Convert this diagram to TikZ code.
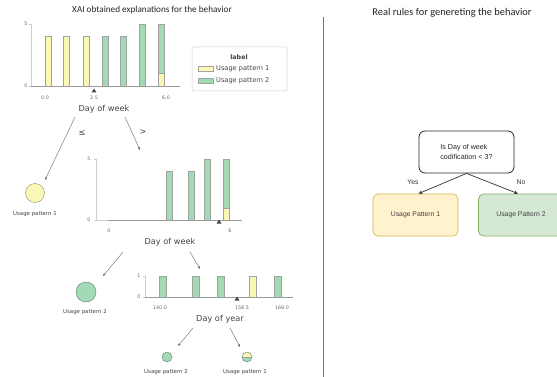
\documentclass[tikz,border=0pt]{standalone}
\usepackage{fontspec}
\setmainfont{DejaVu Sans}
\newfontfamily\calib{Carlito}
\newfontfamily\arialf{Liberation Sans}
\usetikzlibrary{arrows.meta}
\definecolor{pyel}{HTML}{FBF7B4}
\definecolor{pgrn}{HTML}{A1DAB4}
\definecolor{ink}{HTML}{444443}
\definecolor{axisc}{HTML}{CFCFCF}
\definecolor{xaxc}{HTML}{9A9A9A}
\definecolor{yesfill}{HTML}{FFF2CC}
\definecolor{yesdraw}{HTML}{D6B656}
\definecolor{nofill}{HTML}{D5E8D4}
\definecolor{nodraw}{HTML}{82B366}
\tikzset{
  ybar/.style={fill=pyel, draw=ink!50, line width=0.4pt},
  gbar/.style={fill=pgrn, draw=ink!50, line width=0.4pt},
  yaxis/.style={draw=axisc, line width=0.5pt},
  xaxis/.style={draw=xaxc, line width=0.7pt},
  ticklbl/.style={font=\fontsize{4.8}{5}\selectfont, text=ink!80, inner sep=0pt},
  axlbl/.style={font=\fontsize{8.2}{9}\selectfont, text=ink, inner sep=0pt},
  leaflbl/.style={font=\fontsize{5.4}{6}\selectfont, text=ink, inner sep=0pt},
  splitmark/.style={fill=ink, draw=none},
  treearr/.style={draw=ink!75, line width=0.45pt, -{Stealth[length=3.2pt,width=2.6pt]}},
  edgelbl/.style={font=\fontsize{8.2}{9}\selectfont, text=ink, inner sep=0pt},
  leafy/.style={circle, fill=pyel, draw=ink!40!pyel!80!black, line width=0.4pt, inner sep=0pt},
  leafg/.style={circle, fill=pgrn, draw=ink!40!pgrn!80!black, line width=0.4pt, inner sep=0pt},
  ruleq/.style={draw=black!85, line width=0.8pt, rounded corners=6pt, fill=white},
  ruleleaf/.style={line width=0.7pt, rounded corners=5pt, minimum width=85pt, minimum height=42pt,
    font=\arialf\fontsize{6.8}{8}\selectfont, text=black!75},
  rulearr/.style={draw=black!80, line width=0.7pt, -{Stealth[length=4pt,width=3.6pt]}},
  rulelbl/.style={font=\arialf\fontsize{6.8}{8}\selectfont, text=black!80, inner sep=0pt},
  ttl/.style={font=\calib\fontsize{9.2}{11}\selectfont, text=black!85, inner sep=0pt}
}
\begin{document}
\begin{tikzpicture}[x=1pt, y=-1pt]
\useasboundingbox (0,0) rectangle (557,377);
\clip (0,0) rectangle (557,377);
\fill[white] (0,0) rectangle (557,377);

% ---------- titles and divider ----------
\node[ttl] (ltitle) at (152,10) {XAI obtained explanations for the behavior};
\node[ttl, font=\calib\fontsize{10.4}{12}\selectfont] (rtitle) at (452,13) {Real rules for genereting the behavior};
\draw[draw=black!55, line width=1pt] (323.7,17) -- (323.7,377);

% ---------- root histogram: Day of week ----------
\draw[yaxis] (31,24) -- (31,86);
\draw[yaxis] (29,24) -- (31,24) (29,86) -- (31,86);
\node[ticklbl] (r5) at (26,24) {5};
\node[ticklbl] (r0) at (26,86) {0};
\foreach \x in {45,63,83} \draw[ybar] (\x,86) rectangle ++(6,-49.6);
\foreach \x in {102,120} \draw[gbar] (\x,86) rectangle ++(6,-49.6);
\draw[gbar] (139,86) rectangle ++(6,-62);
\draw[ybar] (158,86) rectangle ++(6,-12.4);
\draw[gbar] (158,73.6) rectangle ++(6,-49.6);
\draw[xaxis] (31,86) -- (180,86);
\fill[splitmark] (94,88.5) -- (91.6,92.5) -- (96.4,92.5) -- cycle;
\node[ticklbl] (rt0) at (45,98) {0.0};
\node[ticklbl] (rt1) at (94,98) {2.5};
\node[ticklbl] (rt2) at (166,98) {6.0};
\node[axlbl] (dw1) at (104,109) {Day of week};

% legend
\draw[draw=black!20, fill=white, rounded corners=1.5pt, line width=0.5pt] (192,47) rectangle (287,91);
\node[font=\bfseries\fontsize{6.3}{7}\selectfont, text=ink, inner sep=0pt] (lgt) at (239,57) {label};
\draw[ybar] (198,66.5) rectangle (213,71.5);
\draw[gbar] (198,78.5) rectangle (213,83.5);
\node[anchor=west, font=\fontsize{6.6}{7}\selectfont, text=ink, inner sep=0pt] (lg1) at (216,69) {Usage pattern 1};
\node[anchor=west, font=\fontsize{6.6}{7}\selectfont, text=ink, inner sep=0pt] (lg2) at (216,81) {Usage pattern 2};

% ---------- left leaf of root ----------
\node[leafy, minimum size=19pt] (leafA) at (35,193) {};
\node[leaflbl] (leafAl) at (35,214) {Usage pattern 1};
\coordinate (dw1l) at (75,117);
\coordinate (dw1r) at (125,117);
\coordinate (h2top) at (140,150);
\draw[treearr] (dw1l) -- (45,180);
\draw[treearr] (dw1r) -- (h2top);
\node[edgelbl] (le) at (82,133) {≤};
\node[edgelbl] (gt) at (143,132) {>};

% ---------- second histogram: Day of week ----------
\draw[yaxis] (96,159) -- (96,220);
\draw[yaxis] (94,159) -- (96,159) (94,220) -- (96,220);
\node[ticklbl] (s5) at (89,159) {5};
\node[ticklbl] (s0) at (89,220) {0};
\foreach \x in {166,188} \draw[gbar] (\x,220) rectangle ++(6,-48.8);
\draw[gbar] (204,220) rectangle ++(6,-61);
\draw[ybar] (223,220) rectangle ++(6,-12.2);
\draw[gbar] (223,207.8) rectangle ++(6,-48.8);
\draw[xaxis] (108,220) -- (242,220);
\draw[yaxis] (96,220) -- (108,220);
\fill[splitmark] (219,219.5) -- (216.6,223.5) -- (221.4,223.5) -- cycle;
\node[ticklbl] (st0) at (109,231) {0};
\node[ticklbl] (st1) at (230,231) {6};
\node[axlbl] (dw2) at (170,242) {Day of week};

% ---------- left leaf of second split ----------
\node[leafg, minimum size=20pt] (leafB) at (86,292) {};
\node[leaflbl] (leafBl) at (85,312) {Usage pattern 2};
\coordinate (dw2l) at (123,252);
\coordinate (dw2r) at (190,252);
\coordinate (h3top) at (200,269);
\draw[treearr] (dw2l) -- (103,276);
\draw[treearr] (dw2r) -- (h3top);

% ---------- third histogram: Day of year ----------
\draw[yaxis] (145,276) -- (145,297);
\draw[yaxis] (143,276) -- (145,276) (143,297) -- (145,297);
\node[ticklbl] (t1) at (139,276) {1};
\node[ticklbl] (t0) at (139,297) {0};
\foreach \x in {159,192,217,274} \draw[gbar] (\x,297) rectangle ++(7,-21);
\draw[ybar] (249,297) rectangle ++(7,-21);
\draw[xaxis] (145,297) -- (293,297);
\fill[splitmark] (237,296.5) -- (234.6,300.5) -- (239.4,300.5) -- cycle;
\node[ticklbl] (tt0) at (160,308) {140.0};
\node[ticklbl] (tt1) at (242,308) {158.5};
\node[ticklbl] (tt2) at (282,308) {169.0};
\node[axlbl] (dy) at (220,319) {Day of year};

% ---------- leaves of the Day of year split ----------
\node[leafg, minimum size=10pt] (leafC) at (167,357) {};
\node[leafg, minimum size=10pt,
  path picture={\fill[pyel] (path picture bounding box.north west) rectangle ([yshift=-0.6pt]path picture bounding box.east);
                \draw[ink!50, line width=0.3pt] ([yshift=-0.6pt]path picture bounding box.west) -- ([yshift=-0.6pt]path picture bounding box.east);}] (leafD) at (247,357) {};
\node[leaflbl] (leafCl) at (166,372) {Usage pattern 2};
\node[leaflbl] (leafDl) at (245,372) {Usage pattern 1};
\coordinate (dyl) at (193,328);
\coordinate (dyr) at (230,328);
\draw[treearr] (dyl) -- (178,346);
\draw[treearr] (dyr) -- (240,347);

% ---------- hand-written rule ----------
\node[ruleq, minimum width=95pt, minimum height=42pt, align=left,
  font=\arialf\fontsize{7.2}{10}\selectfont, text=black!85] (q) at (466.5,152)
  {Is Day of week\\ codification < 3?};
\node[ruleleaf, fill=yesfill, draw=yesdraw] (yes) at (415.5,215) {Usage Pattern 1};
\node[ruleleaf, fill=nofill, draw=nodraw] (no) at (521,215) {Usage Pattern 2};
\draw[rulearr] (q.south) -- ([xshift=3pt]yes.north);
\draw[rulearr] (q.south) -- ([xshift=-3pt]no.north);
\node[rulelbl] (yl) at (413,182) {Yes};
\node[rulelbl] (nl) at (521,182) {No};
\end{tikzpicture}
\end{document}
